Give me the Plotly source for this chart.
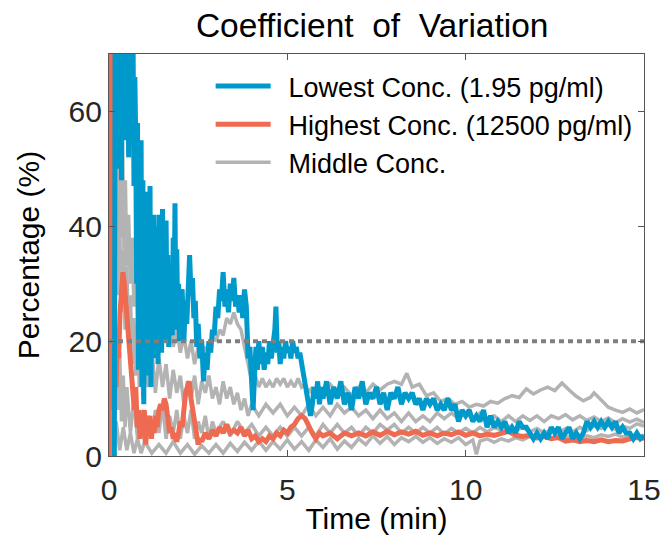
import plotly.graph_objects as go

# ---------------- data ----------------
low_t = [0.150,0.175,0.200,0.225,0.250,0.275,0.300,0.325,0.350,0.375,0.400,0.425,0.450,0.475,0.500,0.525,0.550,0.575,0.600,0.625,
         0.650,0.675,0.700,0.725,0.750,0.775,0.800,0.825,0.850,0.875,0.900,0.925,0.950,0.975,1.000,1.025,1.050,1.075,1.100,1.125,
         1.150,1.175,1.200,1.225,1.250,1.275,1.300,1.325,1.350,1.375,1.400,1.425,1.450,1.475,1.500,1.525,1.550,1.575,1.600,1.625,
         1.650,1.675,1.700,1.725,1.750,1.775,1.800,1.825,1.850,1.875,1.900,1.925,1.950,1.975,2.000,
         2.05,2.10,2.14,2.18,2.22,2.26,2.30,2.34,2.38,2.42,2.46,2.50,2.55,
         2.60,2.65,2.70,2.75,2.80,2.85,2.90,2.95,3.00,3.05,3.10,3.15,3.20,3.25,3.30,3.35,3.40,3.45,3.50,3.55,
         3.60,3.65,3.70,3.75,3.80,3.85,3.90,3.95,4.00,4.04,4.08,4.12,4.16,4.20,4.25,4.30,4.35,4.40,4.45,4.50,
         4.55,4.60,4.65,4.68,4.72,4.76,4.80,4.85,4.90,4.95,5.00,5.05,5.10,5.15,5.20,5.25,5.30,5.35,5.40,5.45,
         5.50,5.55,5.60,5.65,5.70,5.75,5.80,5.85,5.90,5.95,6.00,6.10,6.20,6.30,6.40,6.50,6.60,6.70,6.80,6.90,
         7.00,7.10,7.20,7.30,7.40,7.50,7.60,7.70,7.80,7.90,8.00,8.10,8.20,8.30,8.40,8.50,8.60,8.70,8.80,8.90,
         9.00,9.10,9.20,9.30,9.40,9.50,9.60,9.70,9.80,9.90,10.00,10.10,10.20,10.30,10.40,10.50,10.60,10.70,10.80,10.90,
         11.00,11.10,11.20,11.30,11.40,11.50,11.60,11.70,11.80,11.90,12.00,12.10,12.20,12.30,12.40,12.50,12.60,12.70,12.80,12.90,
         13.00,13.10,13.20,13.30,13.40,13.50,13.60,13.70,13.80,13.90,14.00,14.10,14.20,14.30,14.40,14.50,14.60,14.70,14.80,14.90,15.00]
low_v = [0,85,60,80,50,85,65,78,48,85,70,82,55,85,62,75,52,85,68,80,
         58,72,47,66,55,30,58,15,52,25,55,12,48,9,44,20,46,14,40,25,
         47,12,38,22,42,17,40,28,36,16,42,22,40,18,43,25,38,20,41,26,
         35,19,33,22,30,21,38,25,44,22,36,24,30,20,28,
         29,20,27,23,33,35,28,31,24,27,19,23,17,
         20,13,18,15,20,18,22,21,26,24,29,27,32,26,29,25,30,27,31,26,
         28,25,28,24,29,26,17,19,9,8,14,19,15,20,16,19,15,18,16,20,
         17,19,22,26,18,20,16,19,17,20,18,19,17,20,18,19,17,18,16,14,
         12,10,8,7,9,12,10,13,9,12,10,13,9,12,10,13,9,11,8,12,
         10,13,9,11,10,12,9,11,8,11,10,12,9,11,10,11,9,10,8,10,
         9,10,8,9,8,10,8,9,6,8,7,8,6,7,6,8,5,7,5,6,
         5,6,4,5,4,6,5,5,4,3,4,3,4,3,5,4,5,3,4,5,
         3,4,3,4,6,5,6,5,6,5,6,5,6,4,5,4,4,3,4,3,3.5]

high_t = [0.00,0.01,0.05,0.08,0.11,0.14,0.17,0.20,0.23,0.27,0.31,0.35,0.39,0.43,0.47,0.51,0.55,0.59,0.63,0.67,
          0.71,0.75,0.79,0.83,0.87,0.91,0.95,0.99,1.03,1.07,1.11,1.15,1.19,1.23,1.27,1.31,1.35,1.40,1.45,1.50,
          1.55,1.60,1.65,1.70,1.75,1.80,1.85,1.90,1.95,2.00,2.05,2.10,2.15,2.20,2.25,2.30,2.35,2.40,2.45,2.50,
          2.55,2.60,2.70,2.80,2.90,3.00,3.10,3.20,3.30,3.40,3.50,3.60,3.70,3.80,3.90,4.00,4.10,4.20,4.30,4.40,
          4.50,4.60,4.70,4.80,4.90,5.00,5.10,5.20,5.30,5.40,5.50,5.60,5.70,5.80,5.90,6.00,6.20,6.40,6.60,6.80,
          7.00,7.20,7.40,7.60,7.80,8.00,8.20,8.40,8.60,8.80,9.00,9.20,9.40,9.60,9.80,10.00,10.20,10.40,10.60,10.80,
          11.00,11.20,11.40,11.60,11.80,12.00,12.20,12.40,12.60,12.80,13.00,13.20,13.40,13.60,13.80,14.00,14.20,14.40,14.60,14.80,15.00]
high_v = [0,85,85,50,20,8,14,12,20,17,25,28,32,30,27,23,19,17,14,11,
          8,12,5,8,3,7,5,8,2,6,4,7,3,6,4,7,5,8,9,8,
          10,9,6,4,5,3,4,2.5,4,6,5,9,11,12,13,10,8,5,4,2,
          3,2.5,4,3,4.5,3.5,5,4,5.5,4,4.5,4,5,3.5,4.5,3,3.5,2.5,3,2.5,
          3.5,3,4,3.5,4.5,4,5,5.5,6.5,7,6.5,5,4,3,4,3.5,4,3,4,3.5,
          4,3.5,4.2,3.6,4.3,3.7,4.2,3.8,4.3,3.6,4,3.5,4,3.7,4.2,3.6,4,3.5,3.8,3.6,
          4,4.3,3.6,3.4,3.6,3.2,3.4,3,3.2,2.6,2.8,2.5,2.7,2.5,2.8,2.5,2.7,2.6,3,3.2,3.1]

mid1_t = [0.05,0.07,0.10,0.14,0.18,0.22,0.26,0.30,0.34,0.38,0.42,0.46,0.50,0.55,0.60,0.65,0.70,0.75,0.80,0.85,
          0.90,0.95,1.00,1.05,1.10,1.15,1.20,1.25,1.30,1.35,1.40,1.50,1.60,1.70,1.80,1.90,2.00,2.10,2.20,2.30,
          2.40,2.50,2.60,2.70,2.80,2.90,3.00,3.10,3.20,3.30,3.40,3.50,3.60,3.70,3.80,3.90,4.00,4.10,4.20,4.30,
          4.40,4.50,4.60,4.70,4.80,4.90,5.00,5.10,5.20,5.30,5.40,5.50,5.60,5.70,5.80,5.90,6.00,6.20,6.40,6.60,
          6.80,7.00,7.20,7.40,7.60,7.80,8.00,8.20,8.35,8.50,8.70,8.90,9.10,9.30,9.50,9.70,9.90,10.10,10.30,10.50,
          10.70,10.90,11.10,11.30,11.50,11.70,11.90,12.10,12.30,12.50,12.70,12.90,13.10,13.30,13.50,13.60,13.80,14.00,14.20,14.40,
          14.60,14.80,15.00]
mid1_v = [0,72,45,58,44,56,40,52,38,55,36,48,33,42,30,38,26,36,24,33,
          22,31,20,30,24,34,26,39,27,37,22,27,20,24,19,22,18,21,17,20,
          16,19,17,19,18,21,20,22,21,24,23,25,23,22,19,16,13,14,12,13.5,
          12,13,12,13.5,12.5,13.5,12,13,12,13.5,12,12.5,11,12,10.5,12,11,12.5,11,12,
          10.5,12,11,12.5,11.5,12.5,13,12.5,14.4,12,12.5,10.5,11,9.5,10,9,9.5,8.5,9,8.7,
          9.5,9.2,10,10.5,10.2,11.7,10.8,11.5,12,11.4,12.7,11.5,10.4,9.6,10.2,11,9.8,8.5,8,7.6,
          8.2,7.5,8.1]

mid2_t = [0.03,0.05,0.08,0.12,0.16,0.20,0.25,0.30,0.35,0.40,0.45,0.50,0.55,0.60,0.65,0.70,0.75,0.80,0.85,0.90,
          0.95,1.00,1.10,1.20,1.30,1.40,1.50,1.60,1.70,1.80,1.90,2.00,2.10,2.20,2.30,2.40,2.50,2.60,2.70,2.80,
          2.90,3.00,3.10,3.20,3.30,3.40,3.50,3.60,3.70,3.80,3.90,4.00,4.20,4.40,4.60,4.80,5.00,5.20,5.40,5.60,
          5.80,6.00,6.20,6.40,6.60,6.80,7.00,7.20,7.40,7.60,7.80,8.00,8.20,8.40,8.60,8.80,9.00,9.20,9.40,9.60,
          9.80,10.00,10.20,10.40,10.60,10.80,11.00,11.20,11.40,11.60,11.80,12.00,12.20,12.40,12.60,12.80,13.00,13.20,13.40,13.60,
          13.80,14.00,14.20,14.40,14.60,14.80,15.00]
mid2_v = [0,60,35,48,30,42,28,40,25,36,22,33,20,28,16,24,14,22,12,20,
          10,18,12,19,11,17,12,16,10,15,11,14,9,13,10,14,9,13,11,14,
          10,12,9,13,10,12,9,11,8,10,7,9,7,9,7.5,9,7,8.5,7,9,
          7,8.5,7,9,7.5,8.5,7,8,6.5,8,6.5,7.5,6,7.5,6,7,6,7.5,6.5,7.5,
          6.5,7.5,6.5,7.5,6.5,7,6,7,6,7,6.2,7,6,7,6.5,7.2,6.3,7,6.2,6.8,
          6,6.6,5.8,6.5,5.9,6.4,5.8]

mid3_t = [0.10,0.12,0.16,0.20,0.25,0.30,0.35,0.40,0.45,0.50,0.60,0.70,0.80,0.90,1.00,1.10,1.20,1.30,1.40,1.50,
          1.60,1.70,1.80,1.90,2.00,2.10,2.20,2.30,2.40,2.50,2.60,2.70,2.80,2.90,3.00,3.20,3.40,3.60,3.80,4.00,
          4.20,4.40,4.60,4.80,5.00,5.20,5.40,5.60,5.80,6.00,6.20,6.40,6.60,6.80,7.00,7.20,7.40,7.60,7.80,8.00,
          8.20,8.40,8.60,8.80,9.00,9.20,9.40,9.60,9.80,10.00,10.20,10.40,10.60,10.80,11.00,11.20,11.40,11.60,11.80,12.00,
          12.20,12.40,12.60,12.80,13.00,13.20,13.40,13.60,13.80,14.00,14.20,14.40,14.60,14.80,15.00]
mid3_v = [0,30,12,22,8,18,6,14,5,12,4,10,3,8,2,7,3,8,4,9,
          3,7,4,8,3,7,4,8,3,6,4,7,3,6,4,6,3.5,6,4,5.5,
          3.5,5,3.5,5,3.5,5,3.5,5,3.5,5.5,4,5.5,4,5,3.5,5,4,5.5,4.5,5.5,
          4,5,4,5,4,5,3.8,4.8,4,4.8,4,5,4.2,5,4.5,5.2,4.4,5,4.2,4.8,
          4,4.6,4,4.8,4.2,5,4.4,5.2,4.8,5.4,4.6,5.2,4.8,5.6,5.2]

mid4_t = [0.05,0.08,0.12,0.20,0.30,0.40,0.50,0.60,0.70,0.80,0.90,1.00,1.20,1.40,1.60,1.80,2.00,2.20,2.40,2.60,
          2.80,3.00,3.20,3.40,3.60,3.80,4.00,4.20,4.40,4.60,4.80,5.00,5.20,5.40,5.60,5.80,6.00,6.20,6.40,6.60,
          6.80,7.00,7.20,7.40,7.60,7.80,8.00,8.20,8.40,8.60,8.80,9.00,9.20,9.40,9.60,9.80,10.00,10.20,10.30,10.40,
          10.60,10.80,11.00,11.20,11.40,11.60,11.80,12.00,12.20,12.40,12.60,12.80,13.00,13.20,13.40,13.60,13.80,14.00,14.20,14.40,
          14.60,14.80,15.00]
mid4_v = [0,10,2,6,1,5,1,4,0.5,3,0.5,2.5,0.5,2,0.5,2.5,0.5,2,0.3,1.8,
          0.5,2,0.5,2.2,0.8,2.4,1,2.6,1,2.5,1.2,2.8,1.2,2.5,1,2.8,1.5,3,1.2,2.6,
          1.5,3,2,3.5,2.2,3.4,2,3.2,2.5,3.4,2.4,3.2,2.2,3,2.4,3.2,2,2.8,0.3,2.6,
          3,2.4,3,2.6,3.2,2.8,3.4,3,3.6,3.1,3.8,3.2,3.6,3,3.5,3.2,3.7,3.4,3.8,3.3,
          3.7,3.4,3.6]

x_ticks = [0, 5, 10, 15]
y_ticks = [0, 20, 40, 60]
threshold_x = [0, 15]
threshold_y = [20, 20]

BLUE = "#0099CC"
RED = "#EE6A50"
GRAY = "#B3B3B3"
FONT = "Liberation Sans, Arial, sans-serif"
PAD = "\u00a0\u2009"  # small gap between legend line and label

fig = go.Figure()

middles = [(mid1_t, mid1_v), (mid2_t, mid2_v), (mid3_t, mid3_v), (mid4_t, mid4_v)]
for i, (tt, vv) in enumerate(middles):
    fig.add_trace(go.Scatter(
        x=tt, y=vv, mode="lines", name=PAD + "Middle Conc.",
        line=dict(color=GRAY, width=3.5), legendgroup="mid", legendrank=3,
        showlegend=(i == 0)))

fig.add_trace(go.Scatter(x=high_t, y=high_v, mode="lines", name=PAD + "Highest Conc. (12500 pg/ml)",
                         line=dict(color=RED, width=5), legendgroup="high", legendrank=2))
fig.add_trace(go.Scatter(x=low_t, y=low_v, mode="lines", name=PAD + "Lowest Conc. (1.95 pg/ml)",
                         line=dict(color=BLUE, width=5), legendgroup="low", legendrank=1))
fig.add_trace(go.Scatter(x=threshold_x, y=threshold_y, mode="lines", showlegend=False,
                         line=dict(color="#7F7F7F", width=4, dash="5px,4px")))

axis_common = dict(
    showline=True, linecolor="#555555", linewidth=1.2, mirror="ticks",
    ticks="inside", ticklen=6, tickcolor="#555555", tickwidth=1.2,
    showgrid=False, zeroline=False, automargin=False,
    tickfont=dict(family=FONT, size=30, color="#262626"),
)

fig.update_layout(
    width=665, height=542,
    margin=dict(l=109, r=21, t=54, b=86, autoexpand=False),
    paper_bgcolor="white", plot_bgcolor="white",
    font=dict(family=FONT, color="#000000"),
    title=dict(text="Coefficient  of  Variation", x=0.492, xanchor="center", xref="paper",
               y=1 - 25 / 542, yanchor="middle",
               font=dict(family=FONT, size=33.5, color="#000000")),
    xaxis=dict(range=[0, 15], tickvals=x_ticks, ticklabelstandoff=7,
               title=dict(text="Time (min)", font=dict(family=FONT, size=30, color="#000000"), standoff=2),
               **axis_common),
    yaxis=dict(range=[0, 70], tickvals=y_ticks,
               title=dict(text="Percentage (%)", font=dict(family=FONT, size=30, color="#000000"), standoff=20),
               **axis_common),
    legend=dict(x=0.19, y=0.98, xanchor="left", yanchor="top",
                bgcolor="rgba(255,255,255,0)", borderwidth=0,
                font=dict(family=FONT, size=27, color="#000000"),
                traceorder="grouped", tracegroupgap=0, itemwidth=55),
    showlegend=True,
)

fig.write_html("out.html",
               config={"displayModeBar": False},
               post_script="document.body.style.margin='0';document.body.style.overflow='hidden';")
